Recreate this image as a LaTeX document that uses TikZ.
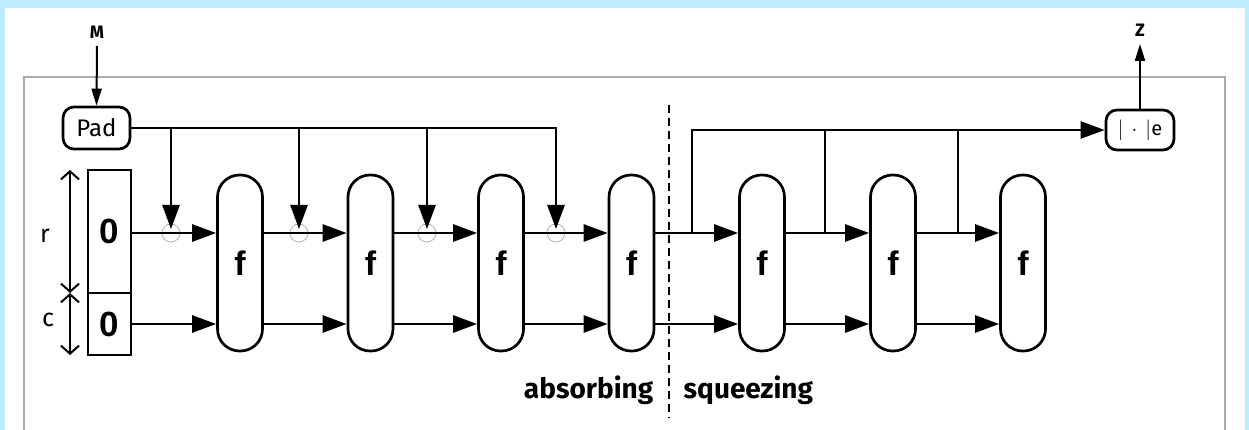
\documentclass[tikz,border=0pt]{standalone}
\usepackage{fontspec}
\setmainfont{Fira Sans}
\newfontfamily\boldsans{Liberation Sans}
\usetikzlibrary{arrows.meta,calc}
\definecolor{bgblue}{RGB}{189,236,255}
\definecolor{framegrey}{RGB}{170,170,170}
\begin{document}
\begin{tikzpicture}[x=1pt,y=-1pt,
  line width=2.7pt,
  arr/.style={-{Triangle[length=24pt,width=17pt]}},
  smallarr/.style={-{Triangle[length=17pt,width=10pt]}},
  fbox/.style={draw,rectangle,rounded corners=22pt,minimum width=45pt,minimum height=176pt,inner sep=0pt,
     font=\boldsans\bfseries\fontsize{34}{36}\selectfont},
  regbox/.style={draw,rectangle,minimum width=43pt,inner sep=0pt,outer sep=0pt,
     font=\boldsans\bfseries\fontsize{35}{37}\selectfont},
  roundbox/.style={draw,rectangle,rounded corners=11pt,inner sep=0pt},
  junction/.style={draw=framegrey,line width=0.7pt,circle,minimum size=18pt,inner sep=0pt},
  lbl/.style={font=\bfseries\fontsize{28}{30}\selectfont},
  barb/.style={{Straight Barb[length=8pt,width=18pt]}-{Straight Barb[length=8pt,width=18pt]},line width=2pt},
]
\useasboundingbox (0,0) rectangle (1249,430);
\fill[bgblue] (0,0) rectangle (1249,430);
\fill[white] (5,8) rectangle (1245,430);
\draw[framegrey,line width=2.2pt] (24,440) -- (24,77) -- (1225,77) -- (1225,440);

% register
\node[regbox,minimum height=123pt] (r0) at (109.5,231.5) {0};
\node[regbox,minimum height=62pt,anchor=north] (c0) at (r0.south) {0};
\coordinate (rt) at (70,170);
\coordinate (rm) at (70,293);
\coordinate (rb) at (70,355);
\draw[barb] (rt) -- (rm);
\draw[barb] (rm) -- (rb);
\node[font=\fontsize{25}{27}\selectfont] (rl) at (45,236) {r};
\node[font=\fontsize{25}{27}\selectfont] (cl) at (48,320) {c};

% f nodes
\foreach \i/\x in {1/240,2/370.5,3/501,4/631.5,5/762,6/893,7/1023}
  \node[fbox] (f\i) at (\x,263) {f};

% pad and output
\node[roundbox,minimum width=67pt,minimum height=42pt,font=\fontsize{24}{26}\selectfont] (pad) at (96.5,128) {Pad};
\node[roundbox,minimum width=68pt,minimum height=40pt,font=\fontsize{20}{22}\selectfont] (out) at (1140,130) {$|\,\cdot\,|$e};
\node[font=\bfseries\fontsize{18}{20}\selectfont] (M) at (97,32) {M};
\node[font=\bfseries\fontsize{18}{20}\selectfont] (Z) at (1140,30) {Z};
\draw[smallarr,line width=2pt] ($(M.south)+(0,3)$) -- (pad.north);
\draw[smallarr,line width=2pt] (out.north) -- ($(Z.south)+(0,3)$);

% junction circles
\foreach \i/\x in {1/171,2/299,3/427,4/556}
  \node[junction] (j\i) at (\x,233) {};

% absorbing: rate lines
\draw[arr] (r0.east |- j1) -- (f1.west |- j1);
\draw[arr] (f1.east |- j2) -- (f2.west |- j2);
\draw[arr] (f2.east |- j3) -- (f3.west |- j3);
\draw[arr] (f3.east |- j4) -- (f4.west |- j4);
% capacity lines
\draw[arr] (c0.east) -- (c0.east -| f1.west);
\foreach \a/\b in {1/2,2/3,3/4,4/5,5/6,6/7}
  \draw[arr] (f\a.east |- c0.east) -- (f\b.west |- c0.east);

% message blocks from pad
\coordinate (p1) at (j1 |- pad.east);
\coordinate (p2) at (j2 |- pad.east);
\coordinate (p3) at (j3 |- pad.east);
\draw[arr,shorten >=4pt] (pad.east) -| (j4.center);
\draw[arr,shorten >=4pt] (p1) -- (j1.center);
\draw[arr,shorten >=4pt] (p2) -- (j2.center);
\draw[arr,shorten >=4pt] (p3) -- (j3.center);

% squeezing
\coordinate (s0) at (692,233);
\coordinate (s1) at (825,233);
\coordinate (s2) at (958,233);
\draw[arr] (f4.east |- s0) -- (f5.west |- s0);
\draw[arr] (f5.east |- s1) -- (f6.west |- s1);
\draw[arr] (f6.east |- s2) -- (f7.west |- s2);
\draw[arr] (s0) |- (out.west);
\draw (s1) -- (s1 |- out.west);
\draw (s2) -- (s2 |- out.west);

% separator
\coordinate (dtop) at (669,105);
\coordinate (dbot) at (669,418);
\draw[dash pattern=on 8pt off 5pt,line width=2pt] (dtop) -- (dbot);
\node[lbl,anchor=east] (abs) at (658,390) {absorbing};
\node[lbl,anchor=west] (sqz) at (679,390) {squeezing};
\end{tikzpicture}
\end{document}
